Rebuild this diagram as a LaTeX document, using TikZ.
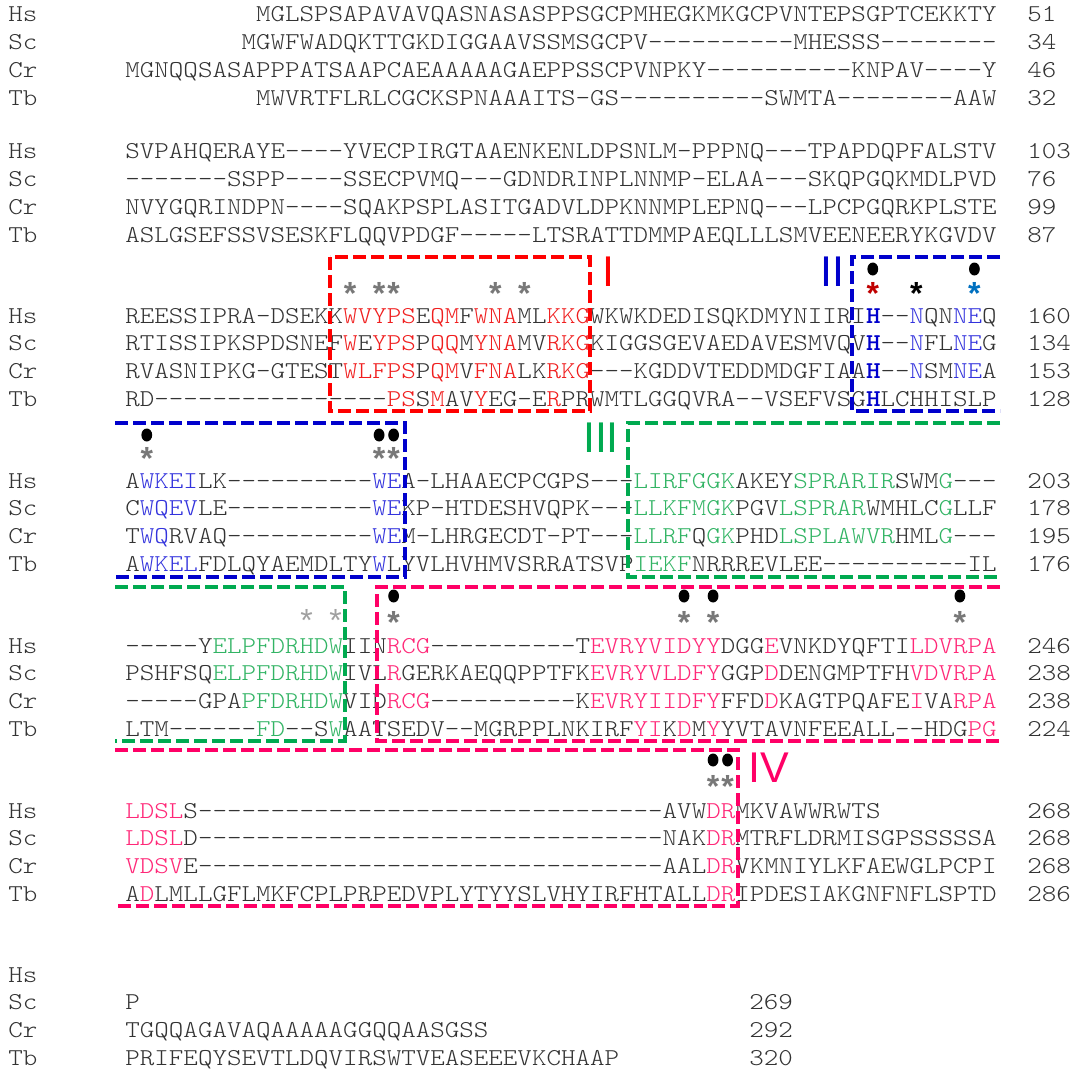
\documentclass[tikz,border=0pt]{standalone}
\usepackage{fontspec}
\setmonofont{lmmonolt10-regular.otf}[BoldFont=lmmonolt10-bold.otf, FakeStretch=1.143]
\setsansfont{Liberation Sans}
\usepackage{tikz}
\definecolor{seqgray}{RGB}{51,51,51}
\definecolor{boxI}{RGB}{255,0,0}
\definecolor{resI}{RGB}{240,30,30}
\definecolor{boxII}{RGB}{0,0,204}
\definecolor{resII}{RGB}{51,51,221}
\definecolor{boxIII}{RGB}{0,170,80}
\definecolor{resIII}{RGB}{50,180,100}
\definecolor{boxIV}{RGB}{255,0,102}
\definecolor{resIV}{RGB}{255,40,120}
\definecolor{stargray}{RGB}{120,120,120}
\definecolor{starred}{RGB}{192,0,0}
\definecolor{starblue}{RGB}{0,112,192}
\newcommand{\mI}[1]{\textcolor{resI}{#1}}
\newcommand{\mII}[1]{\textcolor{resII}{#1}}
\newcommand{\mIII}[1]{\textcolor{resIII}{#1}}
\newcommand{\mIV}[1]{\textcolor{resIV}{#1}}
\newcommand{\hH}{\textcolor{boxII}{\textbf{H}}}
\newcommand{\starmark}{\raisebox{-0.42em}[0.31em][0pt]{*}}

\begin{document}
\begin{tikzpicture}[x=0.5pt, y=-0.5pt,
    seq/.style={anchor=base west, inner sep=0pt, text=seqgray, font=\ttfamily\fontsize{12.1}{14}\selectfont},
    motif/.style={line width=2pt, dash pattern=on 6.5pt off 2.5pt},
    numeral/.style={inner sep=0pt, font=\sffamily\fontsize{21.5}{24}\selectfont},
    star/.style={anchor=center, inner sep=0pt, text=stargray, font=\sffamily\bfseries\fontsize{16}{18}\selectfont},
    faint/.style={anchor=center, inner sep=0pt, text=stargray!70, font=\sffamily\fontsize{16}{18}\selectfont}]
  \fill[white] (0,0) rectangle (1071,1070);
  \useasboundingbox (0,0) rectangle (1071,1070);

  % species labels
  \foreach \y [count=\b] in {22,159,323,488,653,818,982} {
    \node[seq] (hsl\b) at (8,\y) {Hs};
    \node[seq] (scl\b) at (8,{\y+27.8}) {Sc};
    \node[seq] (crl\b) at (8,{\y+55.6}) {Cr};
    \node[seq] (tbl\b) at (8,{\y+83.4}) {Tb};
  }

  % block 1
  \node[seq] (hs1) at (255.68,22) {MGLSPSAPAVAVQASNASASPPSGCPMHEGKMKGCPVNTEPSGPTCEKKTY};
  \node[seq] (sc1) at (241.16,49.8) {MGWFWADQKTTGKDIGGAAVSSMSGCPV----------MHESSS--------};
  \node[seq] (cr1) at (125,77.6) {MGNQQSASAPPPATSAAPCAEAAAAAGAEPPSSCPVNPKY----------KNPAV----Y};
  \node[seq] (tb1) at (255.68,105.4) {MWVRTFLRLCGCKSPNAAAITS-GS----------SWMTA--------AAW};
  \node[seq] (hs1n) at (1027,22) {51};
  \node[seq] (sc1n) at (1027,49.8) {34};
  \node[seq] (cr1n) at (1027,77.6) {46};
  \node[seq] (tb1n) at (1027,105.4) {32};

  % block 2
  \node[seq] (hs2) at (125,159) {SVPAHQERAYE----YVECPIRGTAAENKENLDPSNLM-PPPNQ---TPAPDQPFALSTV};
  \node[seq] (sc2) at (125,186.8) {-------SSPP----SSECPVMQ---GDNDRINPLNNMP-ELAA---SKQPGQKMDLPVD};
  \node[seq] (cr2) at (125,214.6) {NVYGQRINDPN----SQAKPSPLASITGADVLDPKNNMPLEPNQ---LPCPGQRKPLSTE};
  \node[seq] (tb2) at (125,242.4) {ASLGSEFSSVSESKFLQQVPDGF-----LTSRATTDMMPAEQLLLSMVEENEERYKGVDV};
  \node[seq] (hs2n) at (1027,159) {103};
  \node[seq] (sc2n) at (1027,186.8) {76};
  \node[seq] (cr2n) at (1027,214.6) {99};
  \node[seq] (tb2n) at (1027,242.4) {87};

  % block 3
  \node[seq] (hs3) at (125,323) {REESSIPRA-DSEKK\mI{WVYPS}E\mI{QM}F\mI{WNA}ML\mI{KKG}WKWKDEDISQKDMYNIIRI\hH--\mII{N}QN\mII{NE}Q};
  \node[seq] (sc3) at (125,350.8) {RTISSIPKSPDSNEF\mI{W}E\mI{YPS}P\mI{QQ}M\mI{YNA}MV\mI{RKG}KIGGSGEVAEDAVESMVQV\hH--\mII{N}FL\mII{NE}G};
  \node[seq] (cr3) at (125,378.6) {RVASNIPKG-GTEST\mI{WLFPS}P\mI{QM}V\mI{FNA}LK\mI{RKG}---KGDDVTEDDMDGFIAA\hH--\mII{N}SM\mII{NE}A};
  \node[seq] (tb3) at (125,406.4) {RD----------------\mI{PS}S\mI{M}AV\mI{Y}EG-E\mI{R}PRWMTLGGQVRA--VSEFVSG\hH LCHHISLP};
  \node[seq] (hs3n) at (1027,323) {160};
  \node[seq] (sc3n) at (1027,350.8) {134};
  \node[seq] (cr3n) at (1027,378.6) {153};
  \node[seq] (tb3n) at (1027,406.4) {128};

  % block 4
  \node[seq] (hs4) at (125,488) {A\mII{WKEI}LK----------\mII{WE}A-LHAAECPCGPS---\mIII{LIRFGGK}AKEY\mIII{SPRARIR}SWM\mIII{G}---};
  \node[seq] (sc4) at (125,515.8) {C\mII{WQEV}LE----------\mII{WE}KP-HTDESHVQPK---\mIII{LLKFMGK}PGV\mIII{LSPRAR}WMHLC\mIII{G}LLF};
  \node[seq] (cr4) at (125,543.6) {T\mII{WQ}RVAQ----------\mII{WE}M-LHRGECDT-PT---\mIII{LLRF}Q\mIII{GK}PHD\mIII{LSPLAWVR}HML\mIII{G}---};
  \node[seq] (tb4) at (125,571.4) {A\mII{WKEL}FDLQYAEMDLTY\mII{W}LYVLHVHMVSRRATSVP\mIII{IEKF}NRRREVLEE----------IL};
  \node[seq] (hs4n) at (1027,488) {203};
  \node[seq] (sc4n) at (1027,515.8) {178};
  \node[seq] (cr4n) at (1027,543.6) {195};
  \node[seq] (tb4n) at (1027,571.4) {176};

  % block 5
  \node[seq] (hs5) at (125,653) {-----Y\mIII{ELPFDRHDW}IIN\mIV{RCG}----------T\mIV{EVRYVIDYY}DGG\mIV{E}VNKDYQFTI\mIV{LDVRPA}};
  \node[seq] (sc5) at (125,680.8) {PSHFSQ\mIII{ELPFDRHDW}IVL\mIV{R}GERKAEQQPPTFK\mIV{EVRYVLDFY}GGP\mIV{D}DENGMPTFH\mIV{VDVRPA}};
  \node[seq] (cr5) at (125,708.6) {-----GPA\mIII{PFDRHDW}VID\mIV{RCG}----------K\mIV{EVRYIIDFY}FFD\mIV{D}KAGTPQAFE\mIV{I}VA\mIV{RPA}};
  \node[seq] (tb5) at (125,736.4) {LTM------\mIII{FD}--S\mIII{W}AATSEDV--MGRPPLNKIRF\mIV{YI}K\mIV{D}M\mIV{Y}YVTAVNFEEALL--HDG\mIV{PG}};
  \node[seq] (hs5n) at (1027,653) {246};
  \node[seq] (sc5n) at (1027,680.8) {238};
  \node[seq] (cr5n) at (1027,708.6) {238};
  \node[seq] (tb5n) at (1027,736.4) {224};

  % block 6
  \node[seq] (hs6) at (125,818) {\mIV{LDSL}S--------------------------------AVW\mIV{DR}MKVAWWRWTS};
  \node[seq] (sc6) at (125,845.8) {\mIV{LDSL}D--------------------------------NAK\mIV{DR}MTRFLDRMISGPSSSSSA};
  \node[seq] (cr6) at (125,873.6) {\mIV{VDSV}E--------------------------------AAL\mIV{DR}VKMNIYLKFAEWGLPCPI};
  \node[seq] (tb6) at (125,901.4) {A\mIV{D}LMLLGFLMKFCPLPRPEDVPLYTYYSLVHYIRFHTALL\mIV{DR}IPDESIAKGNFNFLSPTD};
  \node[seq] (hs6n) at (1027,818) {268};
  \node[seq] (sc6n) at (1027,845.8) {268};
  \node[seq] (cr6n) at (1027,873.6) {268};
  \node[seq] (tb6n) at (1027,901.4) {286};

  % block 7
  \node[seq] (sc7) at (125,1009.8) {P};
  \node[seq] (cr7) at (125,1037.6) {TGQQAGAVAQAAAAAGGQQAASGSS};
  \node[seq] (tb7) at (125,1065.4) {PRIFEQYSEVTLDQVIRSWTVEASEEEVKCHAAP};
  \node[seq] (sc7n) at (749,1009.8) {269};
  \node[seq] (cr7n) at (749,1037.6) {292};
  \node[seq] (tb7n) at (749,1065.4) {320};

  % motif boxes
  \draw[motif, boxI] (330,257) rectangle (590,411);
  \draw[motif, boxII] (1000,257) -- (852,257) -- (852,411) -- (1000,411);
  \draw[motif, boxII] (115,423) -- (405,423) -- (405,577) -- (115,577);
  \draw[motif, boxIII] (1000,423) -- (628,423) -- (628,577) -- (1000,577);
  \draw[motif, boxIII] (115,587) -- (345,587) -- (345,741) -- (115,741);
  \draw[motif, boxIV] (1000,587) -- (377,587) -- (377,741) -- (1000,741);
  \draw[motif, boxIV] (115,750) -- (738,750) -- (738,906) -- (115,906);

  \node[numeral, text=boxI] (motI) at (608,272) {I};
  \node[numeral, text=boxII] (motII) at (832,272) {II};
  \node[numeral, text=boxIII] (motIII) at (601,438) {III};
  \node[numeral, text=boxIV] (motIV) at (769,768) {IV};

  % marked residues
  \foreach \c in {15,17,18,25,27}
    \node[star] (st3-\c) at ({132.26+14.52*\c},286) {\starmark};
  \node[star, text=starred] (st3-51) at ({132.26+14.52*51},286) {\starmark};
  \node[star, text=black] (st3-54) at ({132.26+14.52*54},286) {\starmark};
  \node[star, text=starblue] (st3-58) at ({132.26+14.52*58},286) {\starmark};
  \foreach \c in {51,58}
    \fill ({132.26+14.52*\c},269) ellipse [x radius=2.7pt, y radius=3.25pt];
  \foreach \c in {1,17,18} {
    \node[star] (st4-\c) at ({132.26+14.52*\c},451) {\starmark};
    \fill ({132.26+14.52*\c},435) ellipse [x radius=2.7pt, y radius=3.25pt];
  }
  \foreach \c in {12,14}
    \node[faint] (fs5-\c) at ({132.26+14.52*\c},613) {\starmark};
  \foreach \c in {18,38,40,57} {
    \node[star] (st5-\c) at ({132.26+14.52*\c},615) {\starmark};
    \fill ({132.26+14.52*\c},596) ellipse [x radius=2.7pt, y radius=3.25pt];
  }
  \foreach \c in {40,41} {
    \node[star] (st6-\c) at ({132.26+14.52*\c},779) {\starmark};
    \fill ({132.26+14.52*\c},760) ellipse [x radius=2.7pt, y radius=3.25pt];
  }
\end{tikzpicture}
\end{document}
